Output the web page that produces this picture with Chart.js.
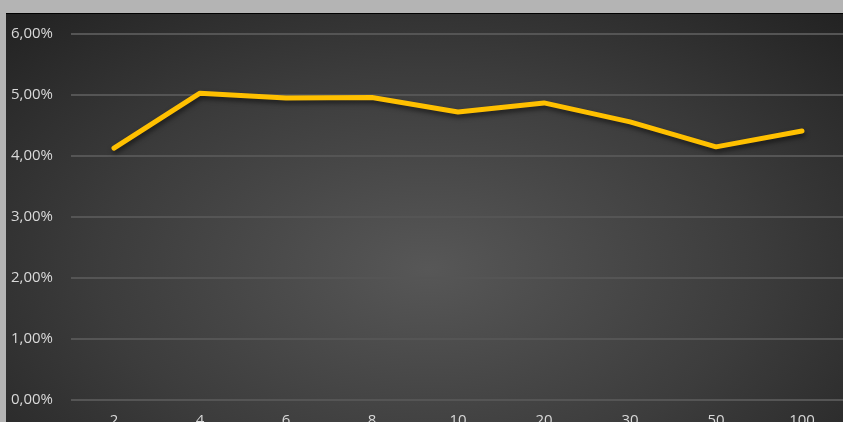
<!DOCTYPE html>
<html>
<head>
<meta charset="utf-8">
<script src="https://cdn.jsdelivr.net/npm/chart.js@4.4.0/dist/chart.umd.min.js"></script>
<style>
    html, body { margin: 0; padding: 0; overflow: hidden; background: #b4b4b4; width: 843px; height: 422px; }
    #chart-container {
        position: absolute; left: 6px; top: 13px; width: 845px; height: 440px;
        border-top: 1px solid #000;
        background: radial-gradient(ellipse farthest-corner at 50% 58%, #575757 0%, #3c3c3c 55%, #222222 100%);
    }
    canvas { display: block; }
</style>
</head>
<body>
<div id="chart-container"><canvas id="rates-chart" width="845" height="440"></canvas></div>
<script>
    // значения с графика, в процентах
    const categories = ['2', '4', '6', '8', '10', '20', '30', '50', '100'];
    const values = [4.13, 5.03, 4.95, 4.96, 4.72, 4.87, 4.56, 4.15, 4.41];
    const yTicks = [0, 1, 2, 3, 4, 5, 6];

    const TEXT_COLOR = '#d9d9d9';
    const GRID_COLOR = '#555555';

    function formatPercent(v) {
        return v.toFixed(2).replace('.', ',') + '%';
    }

    // тень под линией, как в excel
    const lineShadow = {
        id: 'lineShadow',
        beforeDatasetDraw(chart) {
            var ctx = chart.ctx;
            ctx.save();
            ctx.shadowColor = 'rgba(0,0,0,0.55)';
            ctx.shadowBlur = 5;
            ctx.shadowOffsetX = 1;
            ctx.shadowOffsetY = 3;
        },
        afterDatasetDraw(chart) {
            chart.ctx.restore();
        }
    };

    var ctx = document.getElementById('rates-chart').getContext('2d');
    var chart = new Chart(ctx, {
        type: 'line',
        data: {
            labels: categories,
            datasets: [{
                data: values,
                borderColor: '#ffc000',
                borderWidth: 5,
                borderCapStyle: 'round',
                borderJoinStyle: 'round',
                pointRadius: 0,
                fill: false,
                tension: 0,
            }]
        },
        options: {
            responsive: false,
            animation: false,
            layout: { padding: { left: 5, right: 6, top: 20, bottom: 0 } },
            plugins: { legend: { display: false }, tooltip: { enabled: false } },
            scales: {
                x: {
                    offset: true,
                    grid: { display: false, drawTicks: false },
                    border: { display: false },
                    ticks: { color: TEXT_COLOR, font: { family: 'Open Sans', size: 15 }, padding: 12, maxRotation: 0 },
                    afterFit: (scale) => { scale.height = 54; },
                },
                y: {
                    min: 0,
                    max: 6,
                    afterBuildTicks: (scale) => { scale.ticks = yTicks.map(v => ({ value: v })); },
                    grid: { color: GRID_COLOR, lineWidth: 2, drawTicks: false },
                    border: { display: false },
                    ticks: {
                        color: TEXT_COLOR,
                        font: { family: 'Open Sans', size: 15 },
                        crossAlign: 'far',
                        padding: 0,
                        callback: (v) => formatPercent(v),
                    },
                    afterFit: (scale) => { scale.width = 60; },
                }
            }
        },
        plugins: [lineShadow]
    });
</script>
</body>
</html>
